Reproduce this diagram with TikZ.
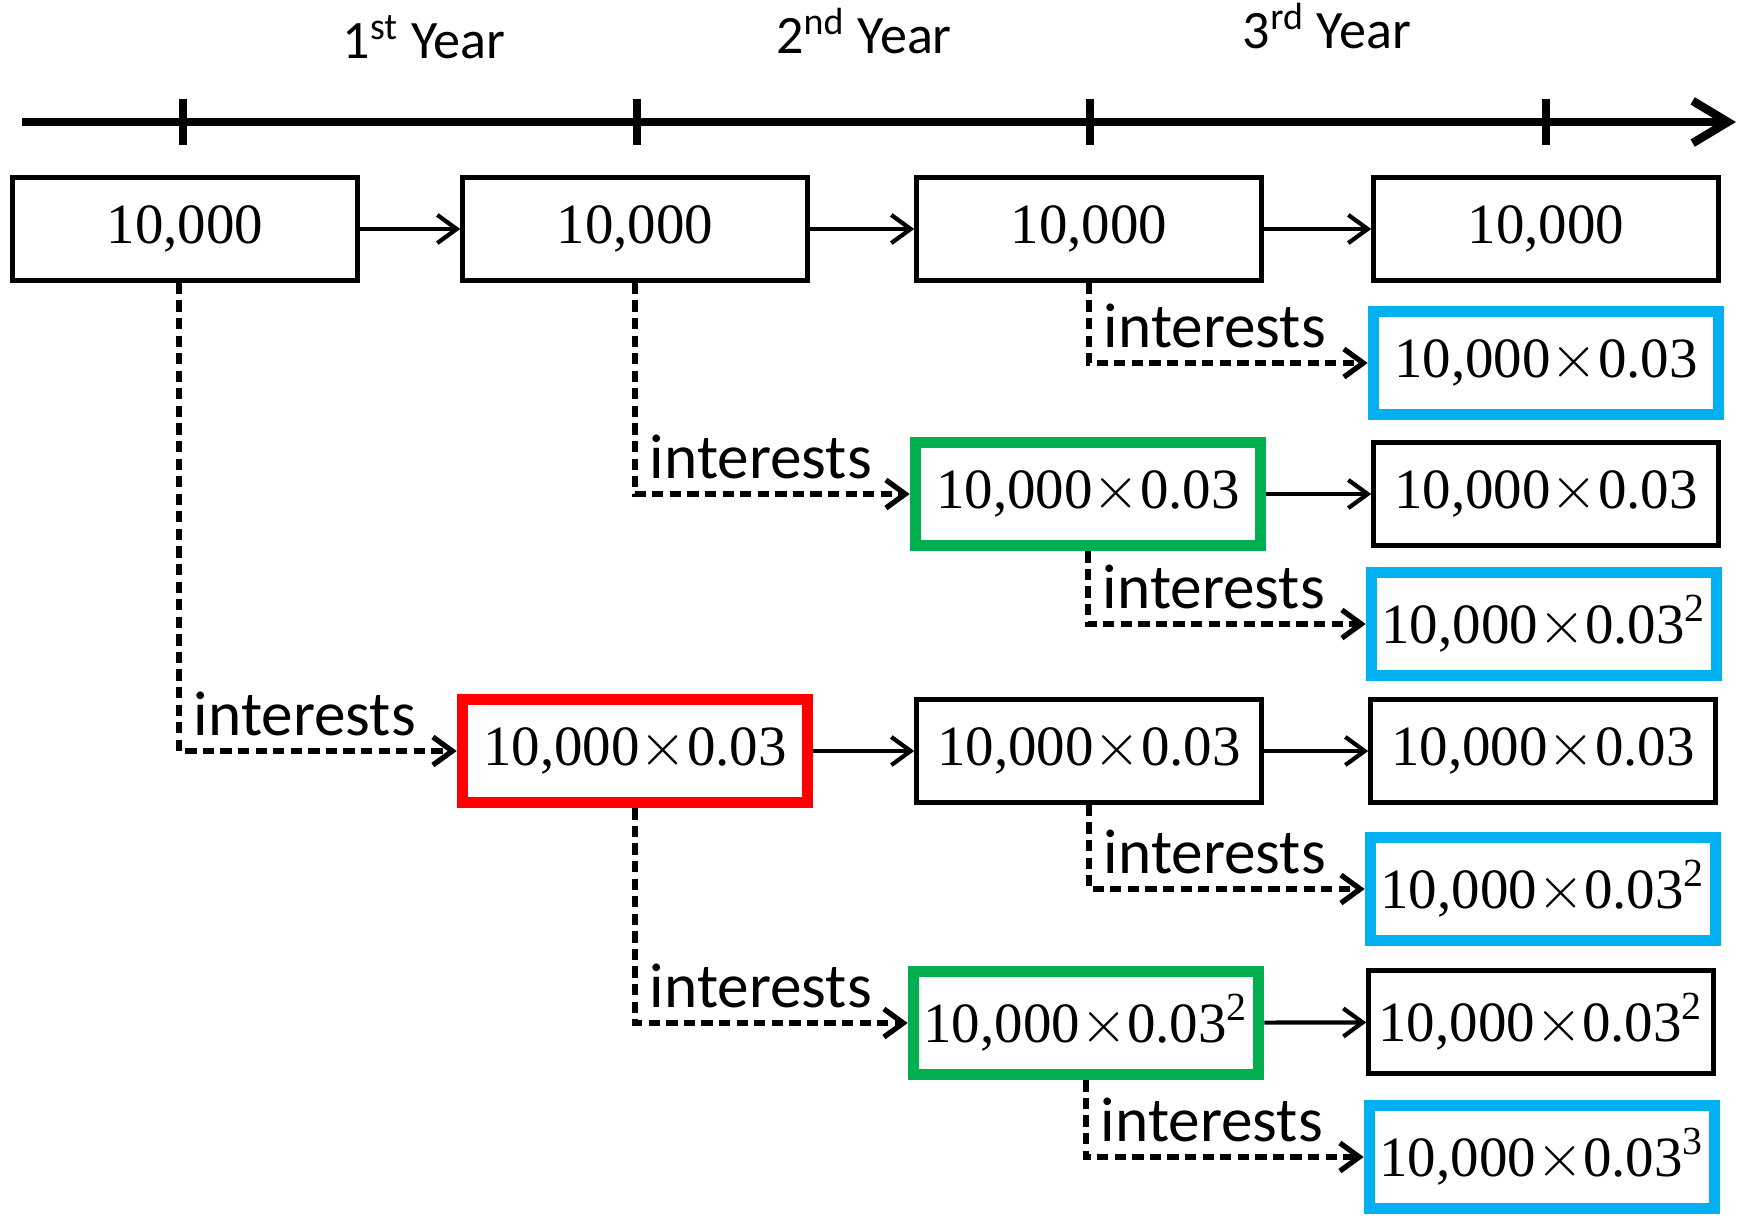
\documentclass[tikz,border=0pt]{standalone}
\usepackage{fontspec}
\setmainfont{Liberation Serif}
\newfontfamily\labelfont{Carlito}
\usetikzlibrary{arrows.meta}
\definecolor{boxblue}{RGB}{0,176,240}
\definecolor{boxgreen}{RGB}{0,176,80}
\definecolor{boxred}{RGB}{255,0,0}
\newcommand{\amt}{10,000$\times$0.03}

\begin{document}
\begin{tikzpicture}[
    amount/.style={draw, line width=1.3pt, minimum width=3.45cm, minimum height=1.03cm, inner sep=0pt, font=\fontsize{16.2}{19}\selectfont},
    hilite/.style={amount, draw=#1, line width=3.3pt},
    flow/.style={-{Straight Barb[length=5.5pt,width=8pt]}, line width=1.2pt},
    gain/.style={flow, line width=1.5pt, dash pattern=on 3.2pt off 1.8pt},
    tag/.style={font=\labelfont\fontsize{18}{20}\selectfont, anchor=south west, inner sep=3.5pt},
    yr/.style={font=\labelfont\fontsize{15.4}{18}\selectfont, anchor=base}
  ]
  \useasboundingbox (0,0) rectangle (17.42,-12.15);

  % time axis
  \draw[line width=2.4pt, -{Straight Barb[length=10pt,width=12pt]}] (0.22,-1.22) -- (17.36,-1.22);
  \foreach \x in {1.83,6.37,10.90,15.46} {
    \draw[line width=2.4pt] (\x,-0.99) -- (\x,-1.45);
  }
  \node[yr] (yr1) at (4.24,-0.58) {1\textsuperscript{st} Year};
  \node[yr] (yr2) at (8.64,-0.53) {2\textsuperscript{nd} Year};
  \node[yr] (yr3) at (13.27,-0.48) {3\textsuperscript{rd} Year};

  % principal
  \node[amount] (a0) at (1.85,-2.29) {10,000};
  \node[amount] (b0) at (6.35,-2.29) {10,000};
  \node[amount] (c0) at (10.89,-2.29) {10,000};
  \node[amount] (d0) at (15.46,-2.29) {10,000};

  % interest and its interest
  \node[hilite=boxblue] (d1) at (15.46,-3.63) {\amt};
  \node[hilite=boxgreen] (c2) at (10.88,-4.94) {\amt};
  \node[amount] (d2) at (15.46,-4.94) {\amt};
  \node[hilite=boxblue] (d3) at (15.44,-6.24) {\amt\textsuperscript{2}};
  \node[hilite=boxred] (b4) at (6.35,-7.51) {\amt};
  \node[amount] (c4) at (10.89,-7.51) {\amt};
  \node[amount] (d4) at (15.43,-7.51) {\amt};
  \node[hilite=boxblue] (d5) at (15.43,-8.89) {\amt\textsuperscript{2}};
  \node[hilite=boxgreen] (c6) at (10.86,-10.23) {\amt\textsuperscript{2}};
  \node[amount] (d6) at (15.41,-10.22) {\amt\textsuperscript{2}};
  \node[hilite=boxblue] (d7) at (15.42,-11.57) {\amt\textsuperscript{3}};

  % carried over
  \draw[flow] (a0) -- (b0);
  \draw[flow] (b0) -- (c0);
  \draw[flow] (c0) -- (d0);
  \draw[flow] (c2) -- (d2);
  \draw[flow] (b4) -- (c4);
  \draw[flow] (c4) -- (d4);
  \draw[flow] (c6) -- (d6);

  % interests
  \draw[gain] ([xshift=-0.06cm]a0.south) |- node[tag, pos=0.5] {interests} (b4.west);
  \draw[gain] (b0.south) |- node[tag, pos=0.5] {interests} (c2.west);
  \draw[gain] (c0.south) |- node[tag, pos=0.5] {interests} (d1.west);
  \draw[gain] (c2.south) |- node[tag, pos=0.5] {interests} (d3.west);
  \draw[gain] (c4.south) |- node[tag, pos=0.5] {interests} (d5.west);
  \draw[gain] (b4.south) |- node[tag, pos=0.5] {interests} (c6.west);
  \draw[gain] (c6.south) |- node[tag, pos=0.5] {interests} (d7.west);
\end{tikzpicture}
\end{document}
